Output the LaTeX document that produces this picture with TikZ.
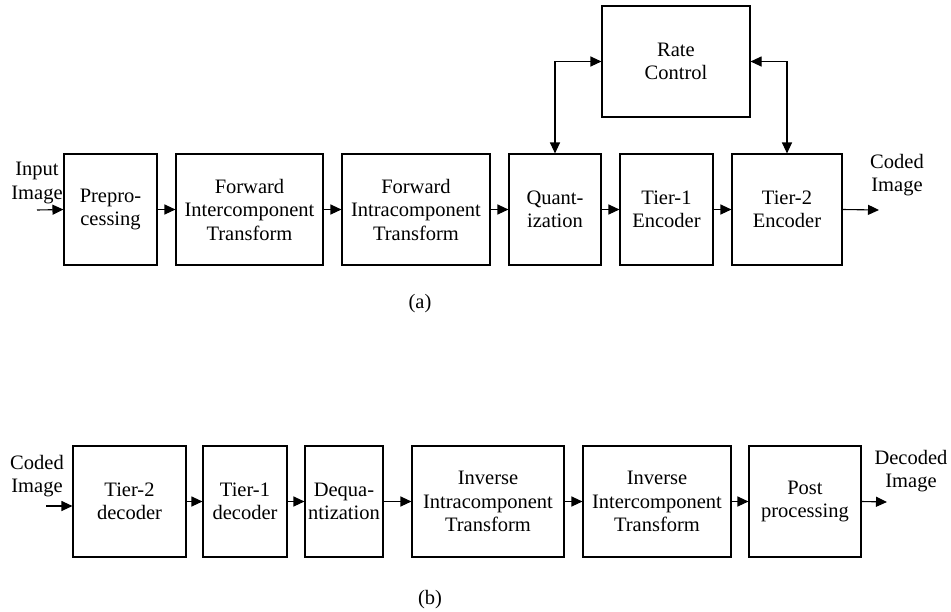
\documentclass[tikz,border=0pt]{standalone}
\usepackage{fontspec}
\setmainfont{Liberation Serif}
\usetikzlibrary{arrows.meta}
\begin{document}
\begin{tikzpicture}[x=1pt,y=-1pt,
  font=\fontsize{20.5}{23.5}\selectfont,
  blk/.style={draw, line width=1.1pt, inner sep=0pt, align=center, minimum height=111pt},
  lbl/.style={inner sep=0pt, align=center},
  tip/.tip={Triangle[length=11pt,width=10pt]},
  flow/.style={line width=1.1pt, -tip},
  both/.style={line width=1.1pt, tip-tip}]
\useasboundingbox (0,0) rectangle (951,611);

% encoder chain
\node[blk, minimum width=93pt]  (pre) at (110.5,209.5) {Prepro-\\cessing};
\node[blk, minimum width=147pt] (fic) at (249.5,209.5) {Forward\\Intercomponent\\Transform};
\node[blk, minimum width=148pt] (fia) at (416,209.5)   {Forward\\Intracomponent\\Transform};
\node[blk, minimum width=92pt]  (qua) at (555,209.5)   {Quant-\\ization};
\node[blk, minimum width=93pt]  (t1e) at (666.5,209.5) {Tier-1\\Encoder};
\node[blk, minimum width=110pt] (t2e) at (787,209.5)   {Tier-2\\Encoder};
\node[blk, minimum width=148pt] (rc)  at (676,61.5)    {Rate\\Control};

\node[lbl] (inimg)  at (37,183)  {Input\\Image};
\node[lbl] (outimg) at (897,175) {Coded\\Image};
\coordinate (ein)  at (37,210);
\coordinate (eout) at (879,210);

\draw[flow] (ein) -- (pre.west);
\draw[flow] (pre) -- (fic);
\draw[flow] (fic) -- (fia);
\draw[flow] (fia) -- (qua);
\draw[flow] (qua) -- (t1e);
\draw[flow] (t1e) -- (t2e);
\draw[flow] (t2e.east) -- (eout);
\draw[both] (qua.north) |- (rc.west);
\draw[both] (t2e.north) |- (rc.east);

\node[lbl] (capa) at (420,304) {(a)};

% decoder chain
\node[blk, minimum width=113pt] (t2d)  at (129.5,501.5) {Tier-2\\decoder};
\node[blk, minimum width=84pt]  (t1d)  at (245,501.5)   {Tier-1\\decoder};
\node[blk, minimum width=78pt]  (deq)  at (344,501.5)   {Dequa-\\ntization};
\node[blk, minimum width=152pt] (iia)  at (488,501.5)   {Inverse\\Intracomponent\\Transform};
\node[blk, minimum width=148pt] (iie)  at (657,501.5)   {Inverse\\Intercomponent\\Transform};
\node[blk, minimum width=112pt] (post) at (805,501.5)   {Post\\processing};

\node[lbl] (cimg) at (37,476)  {Coded\\Image};
\node[lbl] (dimg) at (911,471) {Decoded\\Image};
\coordinate (din)  at (46,506);
\coordinate (dout) at (887,502);

\draw[flow] (din) -- (din -| t2d.west);
\draw[flow] (t2d) -- (t1d);
\draw[flow] (t1d) -- (deq);
\draw[flow] (deq) -- (iia);
\draw[flow] (iia) -- (iie);
\draw[flow] (iie) -- (post);
\draw[flow] (post.east) -- (dout);

\node[lbl] (capb) at (430,600) {(b)};
\end{tikzpicture}
\end{document}
